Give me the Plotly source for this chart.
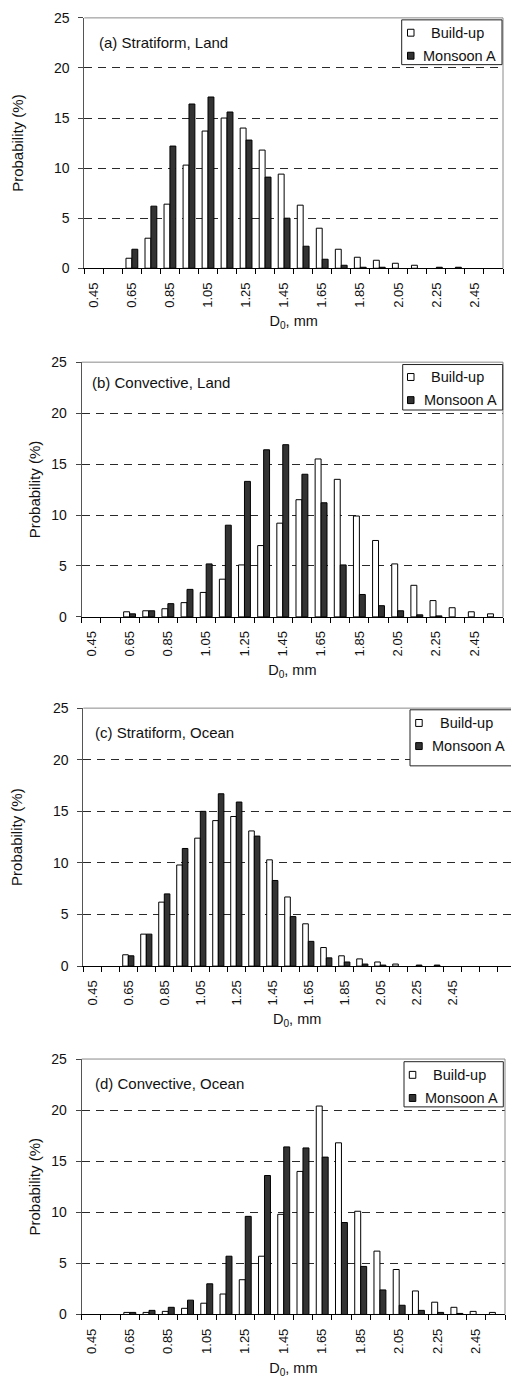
import plotly.graph_objects as go

W, H = 511, 1387

# Category labels (D0 bin centres, mm)
D0 = ["0.45", "0.55", "0.65", "0.75", "0.85", "0.95", "1.05", "1.15", "1.25", "1.35", "1.45",
      "1.55", "1.65", "1.75", "1.85", "1.95", "2.05", "2.15", "2.25", "2.35", "2.45", "2.55"]

# (a) Stratiform, Land
a_build = [0, 0, 1.0, 3.0, 6.4, 10.3, 13.7, 15.0, 14.0, 11.8, 9.4, 6.3, 4.0, 1.9, 1.1, 0.8, 0.5, 0.3, 0, 0, 0, 0]
a_mon = [0, 0, 1.9, 6.2, 12.2, 16.4, 17.1, 15.6, 12.8, 9.1, 5.0, 2.2, 0.9, 0.3, 0.1, 0.1, 0, 0, 0.1, 0.1, 0, 0]
# (b) Convective, Land
b_build = [0, 0, 0.5, 0.6, 0.8, 1.4, 2.4, 3.7, 5.1, 7.0, 9.2, 11.5, 15.5, 13.5, 9.9, 7.5, 5.2, 3.1, 1.6, 0.9, 0.5, 0.3]
b_mon = [0, 0, 0.3, 0.6, 1.3, 2.7, 5.2, 9.0, 13.3, 16.4, 16.9, 14.0, 11.2, 5.1, 2.2, 1.1, 0.6, 0.2, 0.1, 0, 0, 0]
# (c) Stratiform, Ocean
c_build = [0, 0, 1.1, 3.1, 6.2, 9.8, 12.4, 14.1, 14.5, 13.1, 10.3, 6.7, 4.1, 1.8, 1.0, 0.7, 0.4, 0.2, 0, 0, 0, 0]
c_mon = [0, 0, 1.0, 3.1, 7.0, 11.4, 15.0, 16.7, 15.9, 12.6, 8.3, 4.8, 2.4, 0.8, 0.4, 0.2, 0.1, 0, 0.1, 0.1, 0, 0]
# (d) Convective, Ocean
d_build = [0, 0, 0.2, 0.2, 0.3, 0.6, 1.1, 2.0, 3.4, 5.7, 9.8, 14.0, 20.4, 16.8, 10.1, 6.2, 4.4, 2.3, 1.2, 0.7, 0.3, 0.2]
d_mon = [0, 0, 0.2, 0.4, 0.7, 1.4, 3.0, 5.7, 9.6, 13.6, 16.4, 16.3, 15.4, 9.0, 4.7, 2.4, 0.9, 0.4, 0.2, 0.1, 0, 0]

panel_titles = ["(a) Stratiform, Land", "(b) Convective, Land", "(c) Stratiform, Ocean", "(d) Convective, Ocean"]
series_names = ["Build-up", "Monsoon A"]
x_title = "D<sub>0</sub>, mm"
y_title = "Probability (%)"
y_ticks = [0, 5, 10, 15, 20, 25]

FONT = "Liberation Sans, Arial, sans-serif"
DARK = "#333333"

# pixel geometry of each panel
panels = [
    dict(l=84.3, r=503.0, t=10.0, b=263.3, xend=21.5, rborder=True, grid25=True,
         title_xy=(97, 35), ystand=26,
         leg=dict(l=401.7, r=502.0, t=12.0, b=57.3, r1=25.0, r2=48.3, sq=407.5, t1=428.5, t2=421.0)),
    dict(l=81.7, r=503.0, t=358.3, b=616.0, xend=21.5, rborder=True, grid25=True,
         title_xy=(89.5, 379.3), ystand=7,
         leg=dict(l=402.7, r=502.7, t=360.7, b=406.7, r1=373.3, r2=396.7, sq=407.5, t1=429.3, t2=421.7)),
    dict(l=83.3, r=511.0, t=708.3, b=969.3, xend=-0.5 + (511 - 83.3) / 18.0, rborder=False, grid25=False,
         title_xy=(92.7, 733.3), ystand=26,
         leg=dict(l=410.0, r=518.0, t=710.0, b=766.7, r1=723.3, r2=746.7, sq=415.7, t1=438.3, t2=430.0)),
    dict(l=81.7, r=505.0, t=1063.3, b=1321.7, xend=21.5, rborder=True, grid25=True,
         title_xy=(93.3, 1088.3), ystand=7,
         leg=dict(l=404.0, r=503.3, t=1066.0, b=1111.7, r1=1079.3, r2=1102.7, sq=409.3, t1=430.7, t2=422.7)),
]
data = [(a_build, a_mon), (b_build, b_mon), (c_build, c_mon), (d_build, d_mon)]


def px(x):
    return x / W


def py(y):
    return 1 - y / H


def nz(vals):
    # empty bins are drawn as no bar at all
    return [v if v > 0 else None for v in vals]


fig = go.Figure()
shapes = []
annotations = []
layout = dict(
    width=W, height=H, margin=dict(l=0, r=0, t=0, b=0),
    paper_bgcolor="white", plot_bgcolor="white",
    barmode="group", bargap=0.38, bargroupgap=0.0,
    showlegend=False, font=dict(family=FONT, color="#111111"),
)

xidx = list(range(len(D0)))
label_vals = xidx[0::2][:11]
label_text = [D0[i] for i in label_vals]

for k, (p, (bu, mo)) in enumerate(zip(panels, data)):
    n = "" if k == 0 else str(k + 1)
    xa, ya = "x" + n, "y" + n
    fig.add_trace(go.Bar(x=xidx, y=nz(bu), name=series_names[0], xaxis=xa, yaxis=ya,
                         marker=dict(color="white", line=dict(color="black", width=1))))
    fig.add_trace(go.Bar(x=xidx, y=nz(mo), name=series_names[1], xaxis=xa, yaxis=ya,
                         marker=dict(color=DARK, line=dict(color="black", width=1))))
    bounds = [i - 0.5 for i in range(0, 40) if i - 0.5 <= p["xend"] + 1e-6]
    layout["xaxis" + n] = dict(
        domain=[px(p["l"]), px(p["r"])], anchor=ya, range=[-0.5, p["xend"]],
        tickmode="array", tickvals=label_vals, ticktext=label_text, ticks="",
        tickangle=-90, tickfont=dict(size=13, family=FONT, color="#111"),
        showgrid=False, zeroline=False, showline=True, linecolor="black", linewidth=1,
        ticklabelstandoff=8,
        title=dict(text=x_title, standoff=9, font=dict(size=14.5, family=FONT, color="#111")),
        minor=dict(tickvals=bounds, ticks="outside", ticklen=5, tickcolor="black", tickwidth=1,
                   showgrid=False),
    )
    layout["yaxis" + n] = dict(
        domain=[py(p["b"]), py(p["t"])], anchor=xa, range=[0, 25],
        tickmode="array", tickvals=y_ticks,
        ticks="outside", ticklen=5, tickcolor="#444", tickwidth=1,
        tickfont=dict(size=14, family=FONT, color="#111"),
        showgrid=True, gridcolor="#2a2a2a", griddash="8px,6px", gridwidth=1,
        zeroline=False, showline=True, linecolor="#555", linewidth=1,
        ticklabelstandoff=6,
        title=dict(text=y_title, standoff=p["ystand"], font=dict(size=15, family=FONT, color="#111")),
    )
    # plot-area border (gray) top and right
    shapes.append(dict(type="line", xref="paper", yref="paper", x0=px(p["l"]), x1=px(p["r"]),
                       y0=py(p["t"]), y1=py(p["t"]), line=dict(color="#8a8a8a", width=1),
                       layer="above" if not p["grid25"] else "below"))
    if p["rborder"]:
        shapes.append(dict(type="line", xref="paper", yref="paper", x0=px(p["r"]), x1=px(p["r"]),
                           y0=py(p["b"]), y1=py(p["t"]), line=dict(color="#8a8a8a", width=1),
                           layer="above"))
    # panel title
    annotations.append(dict(text=panel_titles[k], xref="paper", yref="paper",
                            x=px(p["title_xy"][0]), y=py(p["title_xy"][1]),
                            xanchor="left", yanchor="middle", showarrow=False,
                            font=dict(size=15, family=FONT, color="#111")))
    # legend box
    L = p["leg"]
    shapes.append(dict(type="rect", xref="paper", yref="paper", x0=px(L["l"]), x1=px(L["r"]),
                       y0=py(L["b"]), y1=py(L["t"]), fillcolor="white",
                       line=dict(color="#222", width=1), layer="above"))
    for row, fill in ((L["r1"], "white"), (L["r2"], DARK)):
        shapes.append(dict(type="rect", xref="paper", yref="paper",
                           x0=px(L["sq"]), x1=px(L["sq"] + 6.5),
                           y0=py(row + 3.5), y1=py(row - 3.5), fillcolor=fill,
                           line=dict(color="black", width=1), layer="above"))
    annotations.append(dict(text=series_names[0], xref="paper", yref="paper",
                            x=px(L["t1"]), y=py(L["r1"]), xanchor="left", yanchor="middle",
                            showarrow=False, font=dict(size=14.5, family=FONT, color="#111")))
    annotations.append(dict(text=series_names[1], xref="paper", yref="paper",
                            x=px(L["t2"]), y=py(L["r2"]), xanchor="left", yanchor="middle",
                            showarrow=False, font=dict(size=14.5, family=FONT, color="#111")))

layout["shapes"] = shapes
layout["annotations"] = annotations
fig.update_layout(**layout)
fig.write_html("out.html")
